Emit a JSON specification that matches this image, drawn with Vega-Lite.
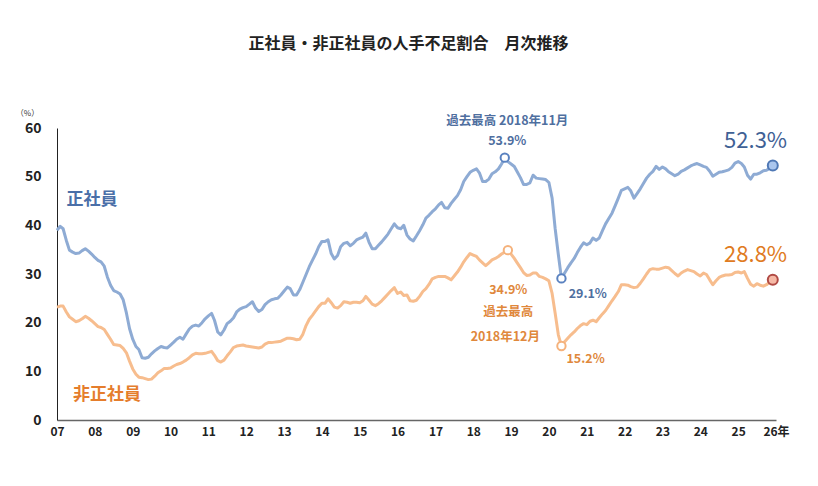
{
  "$schema": "https://vega.github.io/schema/vega-lite/v6.json",
  "width": 719,
  "height": 292,
  "autosize": "none",
  "padding": {"left": 57, "top": 128, "right": 42, "bottom": 66},
  "background": "white",
  "title": {"text": "正社員・非正社員の人手不足割合　月次推移", "font": "Noto Sans CJK JP", "fontSize": 16, "fontWeight": "bold", "color": "#222222", "anchor": "middle", "offset": 57, "dx": -8},
  "config": {"view": {"stroke": null}, "font": "Noto Sans CJK JP"},
  "datasets": {
    "m": [
      {"d":"2007-01-01","正社員":39.0,"非正社員":23.2},{"d":"2007-02-01","正社員":39.8,"非正社員":23.4},{"d":"2007-03-01","正社員":39.3,"非正社員":23.4},{"d":"2007-04-01","正社員":36.9,"非正社員":22.2},{"d":"2007-05-01","正社員":34.9,"非正社員":21.2},{"d":"2007-06-01","正社員":34.5,"非正社員":20.7},{"d":"2007-07-01","正社員":34.2,"非正社員":20.2},{"d":"2007-08-01","正社員":34.3,"非正社員":20.4},{"d":"2007-09-01","正社員":34.8,"非正社員":20.8},{"d":"2007-10-01","正社員":35.2,"非正社員":21.3},{"d":"2007-11-01","正社員":34.7,"非正社員":20.9},{"d":"2007-12-01","正社員":34.1,"非正社員":20.4},
      {"d":"2008-01-01","正社員":33.4,"非正社員":19.8},{"d":"2008-02-01","正社員":32.8,"非正社員":19.2},{"d":"2008-03-01","正社員":32.5,"非正社員":19.0},{"d":"2008-04-01","正社員":31.6,"非正社員":18.6},{"d":"2008-05-01","正社員":29.4,"非正社員":17.6},{"d":"2008-06-01","正社員":27.7,"非正社員":16.6},{"d":"2008-07-01","正社員":26.6,"非正社員":15.5},{"d":"2008-08-01","正社員":26.3,"非正社員":15.4},{"d":"2008-09-01","正社員":25.9,"非正社員":15.3},{"d":"2008-10-01","正社員":24.7,"非正社員":14.7},{"d":"2008-11-01","正社員":22.0,"非正社員":13.8},{"d":"2008-12-01","正社員":18.8,"非正社員":12.1},
      {"d":"2009-01-01","正社員":16.6,"非正社員":10.5},{"d":"2009-02-01","正社員":15.1,"非正社員":9.4},{"d":"2009-03-01","正社員":14.5,"非正社員":8.8},{"d":"2009-04-01","正社員":12.8,"非正社員":8.7},{"d":"2009-05-01","正社員":12.7,"非正社員":8.5},{"d":"2009-06-01","正社員":12.9,"非正社員":8.3},{"d":"2009-07-01","正社員":13.6,"非正社員":8.4},{"d":"2009-08-01","正社員":14.2,"非正社員":9.0},{"d":"2009-09-01","正社員":14.7,"非正社員":9.7},{"d":"2009-10-01","正社員":15.1,"非正社員":10.1},{"d":"2009-11-01","正社員":14.9,"非正社員":10.6},{"d":"2009-12-01","正社員":14.8,"非正社員":10.6},
      {"d":"2010-01-01","正社員":15.4,"非正社員":10.7},{"d":"2010-02-01","正社員":16.0,"非正社員":11.1},{"d":"2010-03-01","正社員":16.6,"非正社員":11.4},{"d":"2010-04-01","正社員":17.0,"非正社員":11.6},{"d":"2010-05-01","正社員":16.6,"非正社員":11.9},{"d":"2010-06-01","正社員":17.7,"非正社員":12.3},{"d":"2010-07-01","正社員":18.7,"非正社員":12.8},{"d":"2010-08-01","正社員":19.3,"非正社員":13.4},{"d":"2010-09-01","正社員":19.5,"非正社員":13.7},{"d":"2010-10-01","正社員":19.3,"非正社員":13.6},{"d":"2010-11-01","正社員":20.0,"非正社員":13.6},{"d":"2010-12-01","正社員":20.8,"非正社員":13.7},
      {"d":"2011-01-01","正社員":21.4,"非正社員":13.9},{"d":"2011-02-01","正社員":21.9,"非正社員":14.1},{"d":"2011-03-01","正社員":20.5,"非正社員":13.3},{"d":"2011-04-01","正社員":18.1,"非正社員":12.2},{"d":"2011-05-01","正社員":17.5,"非正社員":11.9},{"d":"2011-06-01","正社員":18.5,"非正社員":12.3},{"d":"2011-07-01","正社員":19.8,"非正社員":13.2},{"d":"2011-08-01","正社員":20.3,"非正社員":14.0},{"d":"2011-09-01","正社員":21.0,"非正社員":14.9},{"d":"2011-10-01","正社員":22.2,"非正社員":15.2},{"d":"2011-11-01","正社員":22.8,"非正社員":15.3},{"d":"2011-12-01","正社員":23.1,"非正社員":15.4},
      {"d":"2012-01-01","正社員":23.3,"非正社員":15.2},{"d":"2012-02-01","正社員":23.8,"非正社員":15.1},{"d":"2012-03-01","正社員":24.3,"非正社員":15.0},{"d":"2012-04-01","正社員":23.0,"非正社員":14.9},{"d":"2012-05-01","正社員":22.3,"非正社員":14.8},{"d":"2012-06-01","正社員":22.7,"非正社員":15.0},{"d":"2012-07-01","正社員":23.7,"非正社員":15.6},{"d":"2012-08-01","正社員":24.3,"非正社員":15.9},{"d":"2012-09-01","正社員":24.7,"非正社員":15.9},{"d":"2012-10-01","正社員":24.9,"非正社員":16.0},{"d":"2012-11-01","正社員":25.0,"非正社員":16.1},{"d":"2012-12-01","正社員":25.7,"非正社員":16.2},
      {"d":"2013-01-01","正社員":26.5,"非正社員":16.5},{"d":"2013-02-01","正社員":27.3,"非正社員":16.8},{"d":"2013-03-01","正社員":27.0,"非正社員":16.8},{"d":"2013-04-01","正社員":25.7,"非正社員":16.7},{"d":"2013-05-01","正社員":25.7,"非正社員":16.5},{"d":"2013-06-01","正社員":26.8,"非正社員":16.6},{"d":"2013-07-01","正社員":28.3,"非正社員":17.6},{"d":"2013-08-01","正社員":29.9,"非正社員":19.4},{"d":"2013-09-01","正社員":31.5,"非正社員":20.7},{"d":"2013-10-01","正社員":32.8,"非正社員":21.5},{"d":"2013-11-01","正社員":34.1,"非正社員":22.4},{"d":"2013-12-01","正社員":35.6,"非正社員":23.3},
      {"d":"2014-01-01","正社員":36.7,"非正社員":24.0},{"d":"2014-02-01","正社員":36.7,"非正社員":24.0},{"d":"2014-03-01","正社員":37.0,"非正社員":24.9},{"d":"2014-04-01","正社員":34.2,"非正社員":24.1},{"d":"2014-05-01","正社員":33.1,"非正社員":23.2},{"d":"2014-06-01","正社員":33.8,"非正社員":23.0},{"d":"2014-07-01","正社員":35.6,"非正社員":23.5},{"d":"2014-08-01","正社員":36.3,"非正社員":24.3},{"d":"2014-09-01","正社員":36.5,"非正社員":24.2},{"d":"2014-10-01","正社員":35.8,"非正社員":24.0},{"d":"2014-11-01","正社員":36.3,"非正社員":24.2},{"d":"2014-12-01","正社員":37.0,"非正社員":24.2},
      {"d":"2015-01-01","正社員":37.3,"非正社員":24.1},{"d":"2015-02-01","正社員":37.6,"非正社員":24.5},{"d":"2015-03-01","正社員":38.4,"非正社員":25.4},{"d":"2015-04-01","正社員":36.5,"非正社員":24.6},{"d":"2015-05-01","正社員":35.2,"非正社員":23.8},{"d":"2015-06-01","正社員":35.2,"非正社員":23.5},{"d":"2015-07-01","正社員":35.9,"非正社員":23.9},{"d":"2015-08-01","正社員":36.6,"非正社員":24.5},{"d":"2015-09-01","正社員":37.4,"非正社員":25.2},{"d":"2015-10-01","正社員":38.2,"非正社員":25.9},{"d":"2015-11-01","正社員":39.3,"非正社員":26.6},{"d":"2015-12-01","正社員":40.3,"非正社員":27.2},
      {"d":"2016-01-01","正社員":39.5,"非正社員":26.0},{"d":"2016-02-01","正社員":39.3,"非正社員":26.3},{"d":"2016-03-01","正社員":40.0,"非正社員":25.6},{"d":"2016-04-01","正社員":38.0,"非正社員":25.7},{"d":"2016-05-01","正社員":37.2,"非正社員":24.5},{"d":"2016-06-01","正社員":36.8,"非正社員":24.4},{"d":"2016-07-01","正社員":37.8,"非正社員":24.6},{"d":"2016-08-01","正社員":38.9,"非正社員":25.4},{"d":"2016-09-01","正社員":40.1,"非正社員":26.4},{"d":"2016-10-01","正社員":41.5,"非正社員":27.0},{"d":"2016-11-01","正社員":42.1,"非正社員":27.9},{"d":"2016-12-01","正社員":42.8,"非正社員":29.0},
      {"d":"2017-01-01","正社員":43.4,"非正社員":29.3},{"d":"2017-02-01","正社員":44.2,"非正社員":29.5},{"d":"2017-03-01","正社員":44.7,"非正社員":29.5},{"d":"2017-04-01","正社員":43.6,"非正社員":29.5},{"d":"2017-05-01","正社員":43.5,"非正社員":29.2},{"d":"2017-06-01","正社員":44.5,"非正社員":28.8},{"d":"2017-07-01","正社員":45.3,"非正社員":29.6},{"d":"2017-08-01","正社員":46.1,"非正社員":30.4},{"d":"2017-09-01","正社員":47.3,"非正社員":31.4},{"d":"2017-10-01","正社員":49.0,"非正社員":32.5},{"d":"2017-11-01","正社員":50.0,"非正社員":33.4},{"d":"2017-12-01","正社員":50.9,"非正社員":34.2},
      {"d":"2018-01-01","正社員":51.3,"非正社員":33.9},{"d":"2018-02-01","正社員":51.6,"非正社員":33.6},{"d":"2018-03-01","正社員":50.8,"非正社員":32.9},{"d":"2018-04-01","正社員":49.0,"非正社員":32.3},{"d":"2018-05-01","正社員":49.0,"非正社員":31.7},{"d":"2018-06-01","正社員":49.5,"非正社員":32.3},{"d":"2018-07-01","正社員":50.6,"非正社員":32.9},{"d":"2018-08-01","正社員":51.0,"非正社員":33.2},{"d":"2018-09-01","正社員":51.6,"非正社員":33.6},{"d":"2018-10-01","正社員":52.6,"非正社員":34.1},{"d":"2018-11-01","正社員":53.9,"非正社員":34.5},{"d":"2018-12-01","正社員":53.1,"非正社員":34.9},
      {"d":"2019-01-01","正社員":52.6,"非正社員":34.1},{"d":"2019-02-01","正社員":52.1,"非正社員":33.2},{"d":"2019-03-01","正社員":51.0,"非正社員":32.3},{"d":"2019-04-01","正社員":49.8,"非正社員":31.3},{"d":"2019-05-01","正社員":48.4,"非正社員":30.3},{"d":"2019-06-01","正社員":48.4,"非正社員":29.7},{"d":"2019-07-01","正社員":48.7,"非正社員":29.8},{"d":"2019-08-01","正社員":50.3,"非正社員":30.2},{"d":"2019-09-01","正社員":49.7,"非正社員":30.2},{"d":"2019-10-01","正社員":49.6,"非正社員":29.5},{"d":"2019-11-01","正社員":49.5,"非正社員":29.3},{"d":"2019-12-01","正社員":49.4,"非正社員":29.0},
      {"d":"2020-01-01","正社員":48.8,"非正社員":28.6},{"d":"2020-02-01","正社員":45.6,"非正社員":26.0},{"d":"2020-03-01","正社員":39.4,"非正社員":22.0},{"d":"2020-04-01","正社員":34.0,"非正社員":17.5},{"d":"2020-05-01","正社員":29.1,"非正社員":15.2},{"d":"2020-06-01","正社員":30.2,"非正社員":16.1},{"d":"2020-07-01","正社員":31.3,"非正社員":16.8},{"d":"2020-08-01","正社員":32.3,"非正社員":17.5},{"d":"2020-09-01","正社員":33.2,"非正社員":18.1},{"d":"2020-10-01","正社員":34.4,"非正社員":18.8},{"d":"2020-11-01","正社員":35.5,"非正社員":19.4},{"d":"2020-12-01","正社員":36.4,"非正社員":19.8},
      {"d":"2021-01-01","正社員":36.0,"非正社員":19.6},{"d":"2021-02-01","正社員":36.4,"非正社員":20.3},{"d":"2021-03-01","正社員":37.4,"非正社員":20.5},{"d":"2021-04-01","正社員":36.9,"非正社員":20.2},{"d":"2021-05-01","正社員":37.4,"非正社員":21.0},{"d":"2021-06-01","正社員":38.9,"非正社員":21.8},{"d":"2021-07-01","正社員":40.3,"非正社員":22.5},{"d":"2021-08-01","正社員":41.4,"非正社員":23.5},{"d":"2021-09-01","正社員":42.5,"非正社員":24.5},{"d":"2021-10-01","正社員":44.0,"非正社員":25.4},{"d":"2021-11-01","正社員":45.6,"非正社員":26.4},{"d":"2021-12-01","正社員":47.2,"非正社員":27.8},
      {"d":"2022-01-01","正社員":47.5,"非正社員":27.8},{"d":"2022-02-01","正社員":47.8,"非正社員":27.7},{"d":"2022-03-01","正社員":47.1,"非正社員":27.4},{"d":"2022-04-01","正社員":45.6,"非正社員":27.2},{"d":"2022-05-01","正社員":46.5,"非正社員":27.3},{"d":"2022-06-01","正社員":47.5,"非正社員":28.1},{"d":"2022-07-01","正社員":48.6,"非正社員":29.0},{"d":"2022-08-01","正社員":49.7,"非正社員":30.0},{"d":"2022-09-01","正社員":50.5,"非正社員":30.9},{"d":"2022-10-01","正社員":51.1,"非正社員":31.1},{"d":"2022-11-01","正社員":52.1,"非正社員":31.0},{"d":"2022-12-01","正社員":51.5,"非正社員":31.0},
      {"d":"2023-01-01","正社員":52.0,"非正社員":31.2},{"d":"2023-02-01","正社員":51.6,"非正社員":31.4},{"d":"2023-03-01","正社員":51.0,"非正社員":31.3},{"d":"2023-04-01","正社員":50.6,"非正社員":30.7},{"d":"2023-05-01","正社員":50.2,"非正社員":30.1},{"d":"2023-06-01","正社員":50.5,"非正社員":29.6},{"d":"2023-07-01","正社員":51.1,"非正社員":30.2},{"d":"2023-08-01","正社員":51.4,"非正社員":30.6},{"d":"2023-09-01","正社員":51.8,"非正社員":30.9},{"d":"2023-10-01","正社員":52.2,"非正社員":30.7},{"d":"2023-11-01","正社員":52.5,"非正社員":30.5},{"d":"2023-12-01","正社員":52.7,"非正社員":30.0},
      {"d":"2024-01-01","正社員":52.4,"非正社員":29.6},{"d":"2024-02-01","正社員":52.1,"非正社員":30.2},{"d":"2024-03-01","正社員":51.9,"非正社員":29.9},{"d":"2024-04-01","正社員":51.1,"非正社員":28.8},{"d":"2024-05-01","正社員":50.1,"非正社員":27.8},{"d":"2024-06-01","正社員":50.5,"非正社員":28.6},{"d":"2024-07-01","正社員":50.9,"非正社員":29.3},{"d":"2024-08-01","正社員":51.0,"非正社員":29.6},{"d":"2024-09-01","正社員":51.2,"非正社員":29.8},{"d":"2024-10-01","正社員":51.4,"非正社員":29.8},{"d":"2024-11-01","正社員":51.9,"非正社員":29.9},{"d":"2024-12-01","正社員":52.8,"非正社員":30.3},
      {"d":"2025-01-01","正社員":53.1,"非正社員":30.4},{"d":"2025-02-01","正社員":52.7,"非正社員":30.2},{"d":"2025-03-01","正社員":52.0,"非正社員":30.5},{"d":"2025-04-01","正社員":50.3,"非正社員":29.1},{"d":"2025-05-01","正社員":49.5,"非正社員":27.9},{"d":"2025-06-01","正社員":50.5,"非正社員":27.5},{"d":"2025-07-01","正社員":50.5,"非正社員":28.0},{"d":"2025-08-01","正社員":50.8,"非正社員":27.7},{"d":"2025-09-01","正社員":51.2,"非正社員":27.5},{"d":"2025-10-01","正社員":51.3,"非正社員":27.8},{"d":"2025-11-01","正社員":51.7,"非正社員":28.3},{"d":"2025-12-01","正社員":52.3,"非正社員":28.8}
    ],
    "pts": [
      {"d":"2018-11-01","s":"正社員","v":53.9,"k":"mark"},
      {"d":"2018-12-01","s":"非正社員","v":34.9,"k":"mark"},
      {"d":"2020-05-01","s":"正社員","v":29.1,"k":"mark"},
      {"d":"2020-05-01","s":"非正社員","v":15.2,"k":"mark"},
      {"d":"2025-12-01","s":"正社員","v":52.3,"k":"last"},
      {"d":"2025-12-01","s":"非正社員","v":28.8,"k":"last"}
    ],
    "labels": [
      {"d":"2007-12-04","v":45.3,"t":"正社員","s":"正社員","k":"name"},
      {"d":"2008-04-28","v":5.1,"t":"非正社員","s":"非正社員","k":"name"},
      {"d":"2018-11-25","v":61.5,"t":"過去最高 2018年11月","s":"正社員","k":"note"},
      {"d":"2018-11-25","v":57.4,"t":"53.9%","s":"正社員","k":"note"},
      {"d":"2021-01-10","v":25.9,"t":"29.1%","s":"正社員","k":"note"},
      {"d":"2018-12-05","v":26.7,"t":"34.9%","s":"非正社員","k":"note"},
      {"d":"2018-12-05","v":22.2,"t":"過去最高","s":"非正社員","k":"note"},
      {"d":"2018-11-06","v":17.1,"t":"2018年12月","s":"非正社員","k":"note"},
      {"d":"2020-12-20","v":12.5,"t":"15.2%","s":"非正社員","k":"note"},
      {"d":"2025-06-18","v":57.3,"t":"52.3%","s":"正社員","k":"big"},
      {"d":"2025-06-18","v":34.0,"t":"28.8%","s":"非正社員","k":"big"}
    ]
  },
  "encoding": {
    "x": {
      "field": "d", "type": "temporal",
      "scale": {"type": "utc", "domain": [{"year": 2007, "month": 1, "date": 1, "utc": true}, {"year": 2026, "month": 1, "date": 1, "utc": true}]},
      "axis": {"title": null, "tickCount": {"interval": "year", "step": 1}, "labelExpr": "utcFormat(datum.value,'%Y')=='2026' ? '26年' : utcFormat(datum.value,'%y')", "ticks": false, "grid": false, "domainColor": "#666666", "domainWidth": 1.5, "labelFont": "Noto Sans CJK JP", "labelFontSize": 12, "labelFontWeight": "bold", "labelColor": "#222222", "labelPadding": 6, "labelFlush": false, "labelOverlap": false}
    },
    "y": {
      "field": "v", "type": "quantitative",
      "scale": {"domain": [0, 60], "nice": false},
      "axis": {"title": "（%）", "titleAngle": 0, "titleX": -30, "titleY": -15, "titleAlign": "center", "titleBaseline": "middle", "titleFontSize": 8, "titleFontWeight": "normal", "titleColor": "#333333", "values": [0, 10, 20, 30, 40, 50, 60], "ticks": false, "grid": false, "domainColor": "#222222", "labelFont": "Noto Sans CJK JP", "labelFontSize": 14, "labelFontWeight": "bold", "labelColor": "#222222", "labelPadding": 16}
    }
  },
  "layer": [
    {
      "data": {"name": "m"},
      "transform": [{"fold": ["正社員", "非正社員"], "as": ["s", "v"]}],
      "mark": {"type": "line", "strokeWidth": 3, "strokeJoin": "round"},
      "encoding": {
        "color": {"field": "s", "type": "nominal", "scale": {"domain": ["正社員", "非正社員"], "range": ["#8eabd4", "#f7bd8e"]}, "legend": null}
      }
    },
    {
      "data": {"name": "pts"},
      "transform": [{"filter": "datum.k == 'mark' && datum.s == '正社員'"}],
      "mark": {"type": "point", "filled": false, "fill": "white", "fillOpacity": 1, "stroke": "#5a82c0", "strokeWidth": 2, "size": 70, "opacity": 1},
      "encoding": {}
    },
    {
      "data": {"name": "pts"},
      "transform": [{"filter": "datum.k == 'mark' && datum.s == '非正社員'"}],
      "mark": {"type": "point", "filled": false, "fill": "white", "fillOpacity": 1, "stroke": "#f5b27c", "strokeWidth": 2, "size": 70, "opacity": 1},
      "encoding": {}
    },
    {
      "data": {"name": "pts"},
      "transform": [{"filter": "datum.k == 'last' && datum.s == '正社員'"}],
      "mark": {"type": "point", "filled": false, "fill": "#aac6ee", "fillOpacity": 1, "stroke": "#4f78b5", "strokeWidth": 2, "size": 100, "opacity": 1},
      "encoding": {}
    },
    {
      "data": {"name": "pts"},
      "transform": [{"filter": "datum.k == 'last' && datum.s == '非正社員'"}],
      "mark": {"type": "point", "filled": false, "fill": "#f6b9a6", "fillOpacity": 1, "stroke": "#b04a44", "strokeWidth": 2, "size": 100, "opacity": 1},
      "encoding": {}
    },
    {
      "data": {"name": "labels"},
      "transform": [{"filter": "datum.k == 'name'"}],
      "mark": {"type": "text", "font": "Noto Sans CJK JP", "fontSize": 17, "fontWeight": "bold", "align": "center", "baseline": "middle"},
      "encoding": {
        "text": {"field": "t"},
        "fill": {"field": "s", "type": "nominal", "scale": {"domain": ["正社員", "非正社員"], "range": ["#4a6fa8", "#e57d2c"]}, "legend": null}
      }
    },
    {
      "data": {"name": "labels"},
      "transform": [{"filter": "datum.k == 'note'"}],
      "mark": {"type": "text", "font": "Noto Sans CJK JP", "fontSize": 12.5, "fontWeight": "bold", "align": "center", "baseline": "middle"},
      "encoding": {
        "text": {"field": "t"},
        "fill": {"field": "s", "type": "nominal", "scale": {"domain": ["正社員", "非正社員"], "range": ["#4f6f9f", "#e0883c"]}, "legend": null}
      }
    },
    {
      "data": {"name": "labels"},
      "transform": [{"filter": "datum.k == 'big'"}],
      "mark": {"type": "text", "font": "Noto Sans CJK JP", "fontSize": 22, "fontWeight": "normal", "align": "center", "baseline": "middle"},
      "encoding": {
        "text": {"field": "t"},
        "fill": {"field": "s", "type": "nominal", "scale": {"domain": ["正社員", "非正社員"], "range": ["#3f6195", "#e07b22"]}, "legend": null}
      }
    }
  ],
  "resolve": {"scale": {"fill": "independent"}}
}
